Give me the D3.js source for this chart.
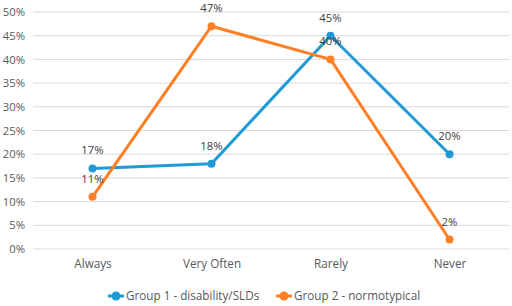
<!DOCTYPE html>
<html>
<head>
<meta charset="utf-8">
<script src="https://cdn.jsdelivr.net/npm/d3@7"></script>
<style>
  body { margin: 0; background: #fff; }
  text { font-family: "Open Sans", sans-serif; }
</style>
</head>
<body>
<div id="chart"></div>
<script>
// data
var categories = ["Always", "Very Often", "Rarely", "Never"];
var group1 = [17, 18, 45, 20];
var group2 = [11, 47, 40, 2];
var seriesNames = ["Group 1 - disability/SLDs", "Group 2 - normotypical"];
var yTicks = [0, 5, 10, 15, 20, 25, 30, 35, 40, 45, 50];

var colors = ["#1f9ad7", "#ff7f27"];

var width = 512, height = 306;
var margin = {top: 12, right: 3, bottom: 57, left: 33};

var svg = d3.select("#chart")
	.append("svg")
	.attr("width", width)
	.attr("height", height);

var g = svg.append("g")
	.attr("transform", "translate(" + margin.left + "," + margin.top + ")");

var w = width - margin.left - margin.right,
	h = height - margin.top - margin.bottom;

var x = d3.scalePoint()
	.domain(categories)
	.range([0, w])
	.padding(0.5);

var y = d3.scaleLinear()
	.domain([0, 50])
	.range([h, 0]);

// gridlines
g.append("g")
	.selectAll("line")
	.data(yTicks)
	.enter()
	.append("line")
		.attr("x1", 0)
		.attr("x2", w)
		.attr("y1", function (d) { return y(d); })
		.attr("y2", function (d) { return y(d); })
		.style("stroke", "#d9d9d9")
		.style("stroke-width", 1);

// y axis labels
var yAxis = g.append("g")
	.call(d3.axisLeft(y).tickValues(yTicks).tickSize(0).tickPadding(8)
		.tickFormat(function (d) { return d + "%"; }));
yAxis.select(".domain").remove();
yAxis.selectAll("text")
	.style("font-family", "'Open Sans', sans-serif")
	.style("font-size", "11.3px")
	.style("fill", "#595959");

// x axis labels
var xAxis = g.append("g")
	.attr("transform", "translate(0," + h + ")")
	.call(d3.axisBottom(x).tickSize(0).tickPadding(11));
xAxis.select(".domain").remove();
xAxis.selectAll("text")
	.style("font-family", "'Open Sans', sans-serif")
	.style("font-size", "11.7px")
	.style("fill", "#595959");

var series = [group1, group2];

var line = d3.line()
	.x(function (d, i) { return x(categories[i]); })
	.y(function (d) { return y(d); });

series.forEach(function (values, s) {
	g.append("path")
		.datum(values)
		.attr("d", line)
		.style("fill", "none")
		.style("stroke", colors[s])
		.style("stroke-width", 3)
		.style("stroke-linejoin", "round");

	g.append("g")
		.selectAll("circle")
		.data(values)
		.enter()
		.append("circle")
			.attr("cx", function (d, i) { return x(categories[i]); })
			.attr("cy", function (d) { return y(d); })
			.attr("r", 4)
			.style("fill", colors[s]);
});

// data labels
series.forEach(function (values, s) {
	g.append("g")
		.selectAll("text")
		.data(values)
		.enter()
		.append("text")
			.attr("x", function (d, i) { return x(categories[i]); })
			.attr("y", function (d) { return y(d) - 14; })
			.attr("text-anchor", "middle")
			.style("font-size", "11.3px")
			.style("fill", "#404040")
			.text(function (d) { return d + "%"; });
});

// legend
var legendX = [108, 276];
var legend = svg.append("g")
	.selectAll("g")
	.data(seriesNames)
	.enter()
	.append("g")
		.attr("transform", function (d, i) { return "translate(" + legendX[i] + ",296)"; });

legend.append("line")
	.attr("x1", 0).attr("x2", 16)
	.attr("y1", 0).attr("y2", 0)
	.style("stroke", function (d, i) { return colors[i]; })
	.style("stroke-width", 3);
legend.append("circle")
	.attr("cx", 8).attr("cy", 0).attr("r", 4.5)
	.style("fill", function (d, i) { return colors[i]; });
legend.append("text")
	.attr("x", 18)
	.attr("y", 4)
	.style("font-size", "11.7px")
	.style("fill", "#595959")
	.text(function (d) { return d; });
</script>
</body>
</html>
